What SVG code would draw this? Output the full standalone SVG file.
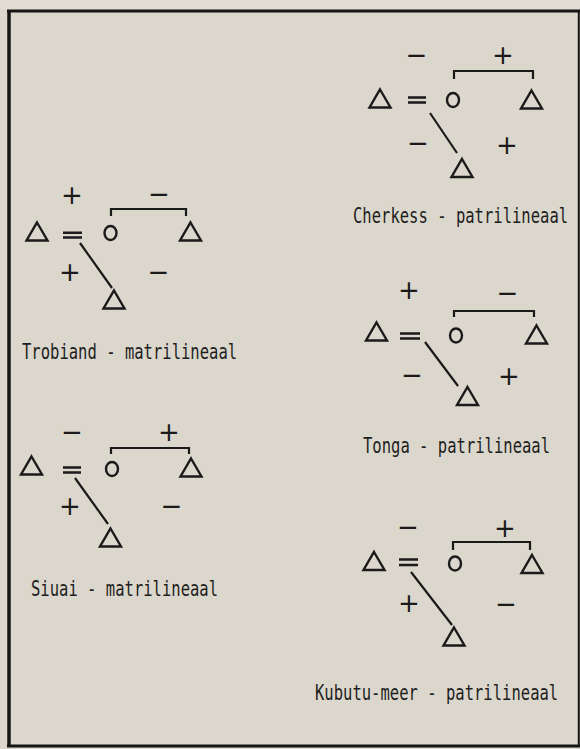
<svg xmlns="http://www.w3.org/2000/svg" xmlns:xlink="http://www.w3.org/1999/xlink" width="580" height="749" viewBox="0 0 580 749">
<defs>
<style>
.bg{fill:#dcd7cc}
.frame{fill:none;stroke:#161616}
.n{fill:none;stroke:#1a1a1a;stroke-width:2.4;stroke-linejoin:miter}
.c{fill:none;stroke:#1a1a1a;stroke-width:2.2}
.eq{fill:none;stroke:#1a1a1a;stroke-width:2.4}
.s{font-family:"DejaVu Sans",sans-serif;font-size:26px;fill:#1a1a1a;text-anchor:middle}
.cap{font-family:"DejaVu Sans Mono","Liberation Mono",monospace;font-size:21px;fill:#1e1e1e}
</style>
<path id="tri" d="M0,-9.5 L10.5,8.5 L-10.5,8.5 Z"/>
</defs>
<rect class="bg" x="0" y="0" width="580" height="749"/>
<rect x="0" y="0" width="580" height="9" fill="#e1ddd4"/>
<g id="frame">
<line class="frame" x1="7" y1="11" x2="580" y2="11" stroke-width="3"/>
<line class="frame" x1="9" y1="10" x2="9" y2="747" stroke-width="3.5"/>
<line class="frame" x1="7" y1="746" x2="580" y2="746" stroke-width="3"/>
<line class="frame" x1="578.8" y1="10" x2="578.8" y2="747" stroke-width="2"/>
</g>

<g id="connectors">
<!-- Trobiand -->
<path class="eq" d="M63,232.8 H82 M63,237.5 H82"/>
<path class="c" d="M111,216 V209 H186 V216"/>
<line class="c" x1="80" y1="243" x2="112" y2="288"/>
<!-- Siuai -->
<path class="eq" d="M63,467.5 H81 M63,472.5 H81"/>
<path class="c" d="M111,454 V448 H189 V454"/>
<line class="c" x1="75" y1="478" x2="108" y2="524"/>
<!-- Cherkess -->
<path class="eq" d="M408,97.5 H426 M408,102.5 H426"/>
<path class="c" d="M454,79 V71 H533 V79"/>
<line class="c" x1="430" y1="113" x2="457" y2="153"/>
<!-- Tonga -->
<path class="eq" d="M400,333.5 H420 M400,338.5 H420"/>
<path class="c" d="M454,317 V311 H534 V317"/>
<line class="c" x1="425" y1="342" x2="458" y2="386"/>
<!-- Kubutu-meer -->
<path class="eq" d="M399,559.5 H418 M399,565 H418"/>
<path class="c" d="M453,550 V542 H530 V550"/>
<line class="c" x1="411" y1="572" x2="452" y2="625"/>
</g>

<!-- Trobiand nodes -->
<g id="trobiand-husband"><use xlink:href="#tri" class="n" transform="translate(37,232)"/></g>
<g id="trobiand-wife"><ellipse class="n" cx="110.5" cy="233" rx="6" ry="7"/></g>
<g id="trobiand-brother"><use xlink:href="#tri" class="n" transform="translate(190.5,232)"/></g>
<g id="trobiand-son"><use xlink:href="#tri" class="n" transform="translate(114,300)"/></g>
<g id="trobiand-labels">
<text class="s" x="72" y="204">+</text>
<text class="s" x="159" y="203">−</text>
<text class="s" x="70" y="281">+</text>
<text class="s" x="158.5" y="281">−</text>
<text class="cap" transform="translate(22,359) scale(0.74,1)">Trobiand - matrilineaal</text>
</g>

<!-- Siuai nodes -->
<g id="siuai-husband"><use xlink:href="#tri" class="n" transform="translate(31.5,466)"/></g>
<g id="siuai-wife"><ellipse class="n" cx="112" cy="469" rx="6" ry="7"/></g>
<g id="siuai-brother"><use xlink:href="#tri" class="n" transform="translate(191,468)"/></g>
<g id="siuai-son"><use xlink:href="#tri" class="n" transform="translate(110.5,538)"/></g>
<g id="siuai-labels">
<text class="s" x="72" y="441">−</text>
<text class="s" x="169" y="441">+</text>
<text class="s" x="70" y="515">+</text>
<text class="s" x="171.5" y="515">−</text>
<text class="cap" transform="translate(31,596) scale(0.74,1)">Siuai - matrilineaal</text>
</g>

<!-- Cherkess nodes -->
<g id="cherkess-husband"><use xlink:href="#tri" class="n" transform="translate(380,99)"/></g>
<g id="cherkess-wife"><ellipse class="n" cx="453" cy="100" rx="6" ry="7"/></g>
<g id="cherkess-brother"><use xlink:href="#tri" class="n" transform="translate(531.5,100)"/></g>
<g id="cherkess-son"><use xlink:href="#tri" class="n" transform="translate(462,168.5)"/></g>
<g id="cherkess-labels">
<text class="s" x="416.5" y="64">−</text>
<text class="s" x="503" y="64">+</text>
<text class="s" x="418" y="152">−</text>
<text class="s" x="507" y="154">+</text>
<text class="cap" transform="translate(353,223) scale(0.74,1)">Cherkess - patrilineaal</text>
</g>

<!-- Tonga nodes -->
<g id="tonga-husband"><use xlink:href="#tri" class="n" transform="translate(376.5,332)"/></g>
<g id="tonga-wife"><ellipse class="n" cx="456" cy="335.5" rx="6" ry="7"/></g>
<g id="tonga-brother"><use xlink:href="#tri" class="n" transform="translate(536.5,335)"/></g>
<g id="tonga-son"><use xlink:href="#tri" class="n" transform="translate(467.5,396.5)"/></g>
<g id="tonga-labels">
<text class="s" x="409" y="299">+</text>
<text class="s" x="507.5" y="302">−</text>
<text class="s" x="412" y="384">−</text>
<text class="s" x="509" y="385">+</text>
<text class="cap" transform="translate(363,453) scale(0.74,1)">Tonga - patrilineaal</text>
</g>

<!-- Kubutu-meer nodes -->
<g id="kubutu-husband"><use xlink:href="#tri" class="n" transform="translate(374,561.5)"/></g>
<g id="kubutu-wife"><ellipse class="n" cx="455" cy="563.5" rx="6" ry="7"/></g>
<g id="kubutu-brother"><use xlink:href="#tri" class="n" transform="translate(532,564.5)"/></g>
<g id="kubutu-son"><use xlink:href="#tri" class="n" transform="translate(454,637)"/></g>
<g id="kubutu-labels">
<text class="s" x="408" y="536">−</text>
<text class="s" x="505" y="537">+</text>
<text class="s" x="409" y="612">+</text>
<text class="s" x="506" y="613">−</text>
<text class="cap" transform="translate(315,700) scale(0.74,1)">Kubutu-meer - patrilineaal</text>
</g>
</svg>
